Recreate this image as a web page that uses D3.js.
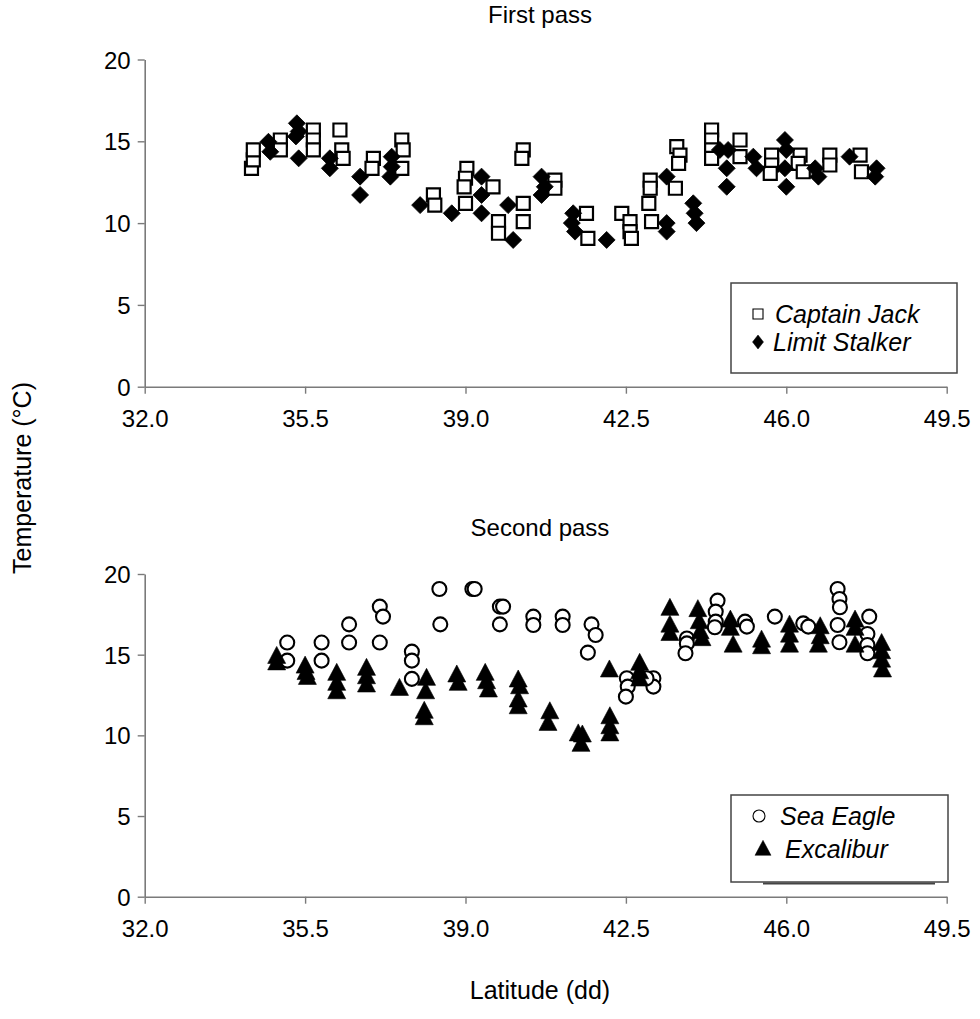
<!DOCTYPE html>
<html><head><meta charset="utf-8">
<script src="https://cdn.jsdelivr.net/npm/d3@7"></script>
<style>
body{margin:0;background:#fff;}
svg text{font-family:"Liberation Sans",Arial,sans-serif;fill:#000;}
</style></head>
<body>
<svg id="c" width="980" height="1019"></svg>
<script>
// ---- data ----
const xTicks = [32.0, 35.5, 39.0, 42.5, 46.0, 49.5];
const yTicks = [0, 5, 10, 15, 20];

const captainJackLat = [34.33,34.37,34.37,34.96,34.96,35.68,35.68,35.68,36.26,36.30,36.33,36.99,36.96,37.61,37.64,37.61,38.30,38.33,39.03,39.00,38.97,39.00,39.60,39.72,39.72,40.26,40.23,40.26,40.26,40.95,40.95,41.64,41.67,42.41,42.59,42.59,42.62,43.03,43.03,43.00,43.06,43.61,43.68,43.65,43.58,44.37,44.37,44.37,44.37,44.99,44.99,45.68,45.68,45.65,46.30,46.26,46.37,46.95,46.95,47.61,47.64];
const captainJackTemp = [13.35,13.86,14.47,15.08,14.47,15.69,15.08,14.47,15.69,14.47,13.96,13.96,13.35,15.08,14.47,13.35,11.72,11.10,13.35,12.74,12.22,11.21,12.22,10.09,9.38,14.47,13.96,11.21,10.09,12.63,12.13,10.60,9.07,10.60,10.09,9.48,9.07,12.63,12.13,11.21,10.09,14.67,14.16,13.65,12.13,15.69,15.08,14.47,13.96,15.08,14.06,14.16,13.55,13.04,14.16,13.65,13.14,14.16,13.55,14.16,13.14];

const limitStalkerLat = [34.70,34.74,35.32,35.36,35.30,35.36,36.04,36.04,36.70,36.70,37.39,37.39,37.36,38.01,38.70,39.35,39.35,39.35,39.93,40.04,40.66,40.73,40.66,41.35,41.32,41.39,42.08,43.39,43.39,43.39,43.97,44.00,44.04,44.55,44.73,44.70,44.70,45.28,45.35,45.97,46.00,45.97,46.00,46.63,46.70,47.38,47.97,47.94];
const limitStalkerTemp = [14.97,14.36,16.10,15.60,15.30,13.96,13.96,13.35,12.84,11.72,14.06,13.45,12.84,11.10,10.60,12.84,11.72,10.60,11.10,8.97,12.84,12.22,11.72,10.60,10.00,9.48,8.97,12.84,10.00,9.48,11.21,10.60,10.00,14.47,14.47,13.35,12.22,14.06,13.35,15.08,14.47,13.35,12.22,13.35,12.84,14.06,13.35,12.84];

const seaEagleLat = [35.11,35.11,35.86,35.86,36.46,36.46,37.13,37.20,37.13,37.83,37.83,37.83,38.43,38.45,39.15,39.20,39.75,39.82,39.75,40.48,40.48,41.12,41.12,41.75,41.84,41.67,42.52,42.54,42.50,43.10,43.10,42.95,43.83,43.83,43.80,44.50,44.46,44.46,44.44,45.10,45.14,45.75,46.37,46.48,47.12,47.16,47.17,47.12,47.16,47.81,47.77,47.77,47.77];
const seaEagleTemp = [15.75,14.63,15.75,14.63,16.88,15.75,17.98,17.36,15.75,15.19,14.63,13.50,19.07,16.88,19.07,19.07,17.98,17.98,16.88,17.36,16.84,17.36,16.84,16.88,16.22,15.13,13.54,13.02,12.40,13.54,13.02,13.54,16.00,15.70,15.09,18.35,17.67,17.05,16.70,17.05,16.74,17.36,16.94,16.74,19.07,18.45,17.94,16.84,15.77,17.36,16.28,15.60,15.09];

const excaliburLat = [34.88,34.88,35.50,35.52,35.55,36.19,36.19,36.19,36.84,36.84,36.84,37.56,38.15,38.13,38.10,38.10,38.81,38.84,39.43,39.46,39.50,40.15,40.18,40.15,40.15,40.84,40.80,41.46,41.55,41.52,42.14,42.15,42.15,42.15,42.80,42.80,42.80,43.46,43.46,43.46,44.07,44.10,44.12,44.16,44.78,44.78,44.84,45.46,45.46,46.07,46.07,46.07,46.74,46.74,46.70,47.50,47.50,47.50,48.08,48.08,48.08,48.10];
const excaliburTemp = [14.90,14.50,14.30,13.90,13.60,13.85,13.23,12.71,14.16,13.64,13.13,12.92,13.54,12.71,11.50,11.10,13.75,13.23,13.85,13.33,12.82,13.44,13.02,12.20,11.78,11.47,10.75,10.10,10.03,9.45,14.06,11.16,10.54,10.10,14.47,13.95,13.50,17.88,16.84,16.32,17.80,17.05,16.43,16.00,17.15,16.64,15.60,15.91,15.50,16.84,16.22,15.60,16.74,16.12,15.60,17.15,16.64,15.60,15.70,15.19,14.67,14.06];

// ---- drawing ----
const svg = d3.select("#c");
const font = '"Liberation Sans",Arial,sans-serif';
const axisColor = "#7a7a7a";
const FS = 24;
const TS = 25;

const x = d3.scaleLinear().domain([32, 49.5]).range([144.7, 946.7]);

function zip(a, b){ return a.map((v,i)=>({lat:v,t:b[i]})); }

function panel(yTop, yBot, title, titleY, seriesDefs, legend){
  const y = d3.scaleLinear().domain([0,20]).range([yBot, yTop]);
  const g = svg.append("g");
  const xa = g.append("g").attr("transform",`translate(0,${yBot})`)
    .call(d3.axisBottom(x).tickValues(xTicks).tickSize(7).tickSizeOuter(0).tickFormat(d3.format(".1f")));
  const ya = g.append("g").attr("transform",`translate(${x(32)},0)`)
    .call(d3.axisLeft(y).tickValues(yTicks).tickSize(7).tickSizeOuter(0));
  [xa,ya].forEach(a=>{
    a.attr("font-size",FS).attr("font-family",font);
    a.select(".domain").attr("stroke",axisColor).attr("stroke-width",1.6);
    a.selectAll(".tick line").attr("stroke",axisColor).attr("stroke-width",1.4);
    a.selectAll("text").style("font-size",FS+"px").attr("fill","#000");
  });
  xa.selectAll("text").attr("dy",null).attr("y",40);
  ya.selectAll("text").attr("x",-14).attr("dy","0.36em");

  g.append("text").attr("x",540).attr("y",titleY).attr("text-anchor","middle")
    .style("font-size",FS+"px").text(title);

  seriesDefs.forEach(s=>{
    const pts = zip(s.lat, s.temp);
    g.append("g").selectAll("path").data(pts).join("path")
      .attr("transform",d=>`translate(${x(d.lat)},${y(d.t)})`)
      .attr("d",s.path).attr("fill",s.fill).attr("stroke",s.stroke)
      .attr("stroke-width",s.sw);
  });

  const L = legend;
  if (L.shadow) {
    g.append("line").attr("x1",L.shadow[0]).attr("x2",L.shadow[1])
      .attr("y1",L.y+L.h+1.5).attr("y2",L.y+L.h+1.5).attr("stroke","#444").attr("stroke-width",2.2);
  }
  g.append("rect").attr("x",L.x).attr("y",L.y).attr("width",L.w).attr("height",L.h)
    .attr("fill","#fff").attr("stroke","#444").attr("stroke-width",1.5);
  L.items.forEach(it=>{
    g.append("path").attr("transform",`translate(${it.mx},${it.my})`).attr("d",it.path)
      .attr("fill",it.fill).attr("stroke",it.stroke).attr("stroke-width",it.sw);
    g.append("text").attr("x",it.tx).attr("y",it.ty).style("font-size","25px")
      .attr("font-style","italic").text(it.label);
  });
}

const sq = s => `M${-s/2},${-s/2}h${s}v${s}h${-s}Z`;
const dia = (w,h) => `M0,${-h/2}L${w/2},0L0,${h/2}L${-w/2},0Z`;
const circ = r => `M${r},0A${r},${r} 0 1,1 ${-r},0A${r},${r} 0 1,1 ${r},0Z`;
const tri = (w,h) => `M0,${-h*0.58}L${w/2},${h*0.42}L${-w/2},${h*0.42}Z`;

panel(59.5, 386.7, "First pass", 23, [
  {lat:captainJackLat, temp:captainJackTemp, path:sq(13), fill:"#fff", stroke:"#000", sw:2.2},
  {lat:limitStalkerLat, temp:limitStalkerTemp, path:dia(17,17), fill:"#000", stroke:"#000", sw:0.8}
], {x:731, y:283, w:226, h:90, items:[
  {path:sq(10), fill:"#fff", stroke:"#000", sw:1.1, mx:758, my:314, tx:775, ty:323, label:"Captain Jack"},
  {path:dia(11,14), fill:"#000", stroke:"#000", sw:0.5, mx:758, my:342, tx:773, ty:351, label:"Limit Stalker"}
]});

panel(574, 896.7, "Second pass", 536, [
  {lat:seaEagleLat, temp:seaEagleTemp, path:circ(7), fill:"#fff", stroke:"#000", sw:2.1},
  {lat:excaliburLat, temp:excaliburTemp, path:tri(18,17), fill:"#000", stroke:"#000", sw:0.6}
], {x:731, y:795, w:217, h:87, shadow:[763,935], items:[
  {path:circ(6), fill:"#fff", stroke:"#000", sw:1.1, mx:759, my:816, tx:780, ty:825, label:"Sea Eagle"},
  {path:tri(16,15), fill:"#000", stroke:"#000", sw:0.5, mx:763, my:849, tx:785, ty:858, label:"Excalibur"}
]});

svg.append("text").attr("x",540).attr("y",999).attr("text-anchor","middle")
  .style("font-size",TS+"px").text("Latitude (dd)");
svg.append("text").attr("transform","translate(31,478) rotate(-90)").attr("text-anchor","middle")
  .style("font-size",TS+"px").text("Temperature (°C)");
</script>
</body></html>
